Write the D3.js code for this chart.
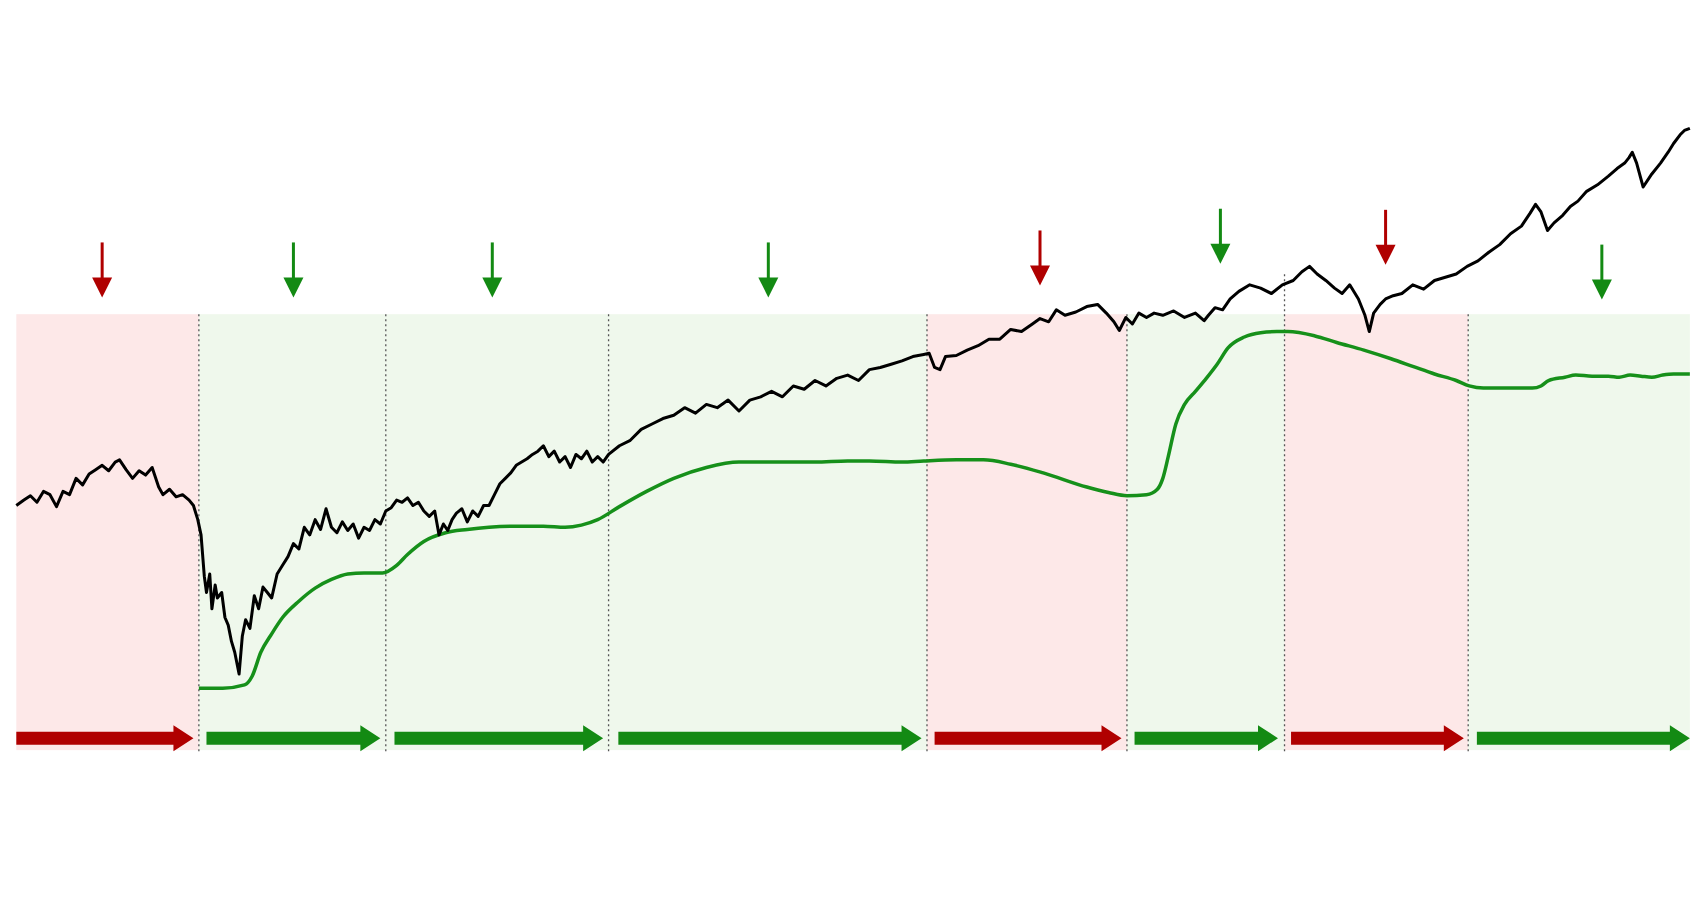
<!DOCTYPE html><html><head><meta charset="utf-8"><script src="https://cdn.jsdelivr.net/npm/d3@7"></script>
<style>body{margin:0;background:#fff}</style></head><body><svg id="c" width="1704" height="923"></svg>
<script>
const bandEdges=[15,183,355,560,853,1037,1182,1351,1555];
const bandTypes=["bear","bull","bull","bull","bear","bull","bear","bull"];
const arrowSpans=[[15,178],[190,350],[363,555],[569,848],[860,1032],[1044,1176],[1188,1347],[1359,1555]];
const topArrowX=[94,270,453,707,957,1123,1275,1474];
const topArrowY=[223,223,223,223,212,192,193,225];
const priceX=[15,22,28,34,40,46,52,58,64,70,76,82,88,94,100,106,110,116,122,128,134,140,146,150,156,162,168,174,178,182,185,188,190,193,195,198,200,204,207,210,213,216,220,223,226,230,234,238,242,246,250,255,260,265,270,275,280,285,290,295,300,305,310,315,320,325,330,335,340,345,350,355,360,365,370,375,380,385,390,395,400,404,408,412,416,420,425,430,435,440,445,450,455,460,465,470,475,480,485,490,495,500,505,510,515,520,525,530,535,540,545,550,555,560,570,580,590,600,610,620,630,640,650,660,670,680,690,700,710,720,730,740,750,760,770,780,790,800,810,820,830,840,850,855,860,865,870,880,890,900,910,920,930,940,950,957,965,972,980,990,1000,1010,1018,1025,1030,1036,1042,1048,1055,1062,1070,1080,1090,1100,1108,1112,1118,1125,1132,1140,1150,1160,1170,1180,1190,1198,1205,1212,1220,1228,1235,1242,1250,1256,1260,1264,1270,1275,1282,1290,1300,1310,1320,1330,1340,1350,1360,1370,1380,1390,1400,1408,1413,1418,1424,1430,1438,1445,1452,1460,1470,1480,1488,1495,1499,1502,1506,1512,1520,1528,1535,1540,1546,1550,1555];
const priceY=[465,460,456,462,452,455,466,452,455,440,446,436,432,428,433,425,423,432,440,433,437,430,448,455,450,457,455,460,465,478,492,530,545,528,560,538,550,545,568,575,590,600,620,585,570,578,548,560,540,545,550,528,520,512,500,505,485,492,478,487,468,485,490,480,488,482,495,485,488,478,482,470,467,460,462,458,465,462,470,475,470,492,482,488,478,472,468,480,470,475,465,465,455,445,440,435,428,425,422,418,415,410,420,415,425,420,430,418,422,415,425,420,425,418,410,405,395,390,385,382,375,380,372,375,368,378,368,365,360,365,355,358,350,355,348,345,350,340,338,335,332,328,326,325,338,340,328,327,322,318,312,312,303,305,298,293,296,285,290,287,282,280,288,296,304,292,298,288,292,288,290,286,292,288,295,290,283,285,275,268,262,265,270,262,258,250,245,252,258,265,270,262,275,290,305,288,280,275,272,270,262,266,258,255,252,245,240,232,225,215,208,196,188,195,212,205,198,190,185,176,170,162,155,150,145,140,150,172,160,150,140,132,124,120,118,122,115];
const trendX=[183,205,225,232,240,250,260,275,290,305,320,335,352,365,375,390,410,430,450,475,500,520,535,550,570,595,620,650,680,715,750,780,800,830,850,880,905,930,960,1000,1020,1037,1055,1065,1070,1075,1082,1090,1100,1110,1120,1130,1145,1160,1175,1185,1210,1230,1255,1280,1300,1320,1340,1352,1365,1380,1395,1410,1418,1425,1440,1450,1465,1480,1490,1500,1510,1520,1530,1540,1555];
const trendY=[633,633,630,622,600,583,568,553,541,533,528,527,527,520,510,498,490,487,485,484,484,485,483,478,466,452,440,430,425,425,425,424,424,425,424,423,423,427,435,448,453,456,455,450,440,420,390,372,360,348,335,320,310,306,305,305,309,315,322,330,337,344,350,355,357,357,357,357,355,350,347,345,346,346,347,345,346,347,345,344,344];
const bandTop=289, bandBottom=690, arrowRowY=679;

const svg=d3.select("#c");
const x=d3.scaleLinear().domain([0,1568]).range([0,1704]);
const y=d3.scaleLinear().domain([0,849]).range([0,923]);
const col={bear:{fill:"#fde8e8",stroke:"#b00000"},bull:{fill:"#eff8ec",stroke:"#138a13"}};
bandTypes.forEach((t,i)=>{
  svg.append("rect").attr("x",x(bandEdges[i])).attr("y",y(bandTop))
   .attr("width",x(bandEdges[i+1])-x(bandEdges[i])).attr("height",y(bandBottom)-y(bandTop))
   .attr("fill",col[t].fill);
});
bandEdges.slice(1,-1).forEach(e=>{
  svg.append("line").attr("x1",x(e)).attr("x2",x(e)).attr("y1",y(bandTop)+(e>1100&&e<1200?-40:0)).attr("y2",y(bandBottom)+2)
   .attr("stroke","#555").attr("stroke-width",1.3).attr("stroke-dasharray","2,3");
});
svg.append("path").datum(trendX.map((v,i)=>[v,trendY[i]]))
 .attr("d",d3.line().x(d=>x(d[0])).y(d=>y(d[1])).curve(d3.curveMonotoneX))
 .attr("fill","none").attr("stroke","#16901a").attr("stroke-width",3.5);
svg.append("path").datum(priceX.map((v,i)=>[v,priceY[i]]))
 .attr("d",d3.line().x(d=>x(d[0])).y(d=>y(d[1])))
 .attr("fill","none").attr("stroke","#000").attr("stroke-width",3).attr("stroke-linejoin","round");
arrowSpans.forEach((s,i)=>{
  const c=col[bandTypes[i]].stroke, x0=x(s[0]), x1=x(s[1]), yc=y(arrowRowY), hl=20, hw=13, th=6.5;
  svg.append("path").attr("fill",c)
   .attr("d",`M${x0},${yc-th}L${x1-hl},${yc-th}L${x1-hl},${yc-hw}L${x1},${yc}L${x1-hl},${yc+hw}L${x1-hl},${yc+th}L${x0},${yc+th}Z`);
});
topArrowX.forEach((ax,i)=>{
  const c=col[bandTypes[i]].stroke, xc=x(ax), y0=y(topArrowY[i]), y1=y0+55;
  svg.append("line").attr("x1",xc).attr("x2",xc).attr("y1",y0).attr("y2",y1-18).attr("stroke",c).attr("stroke-width",3);
  svg.append("path").attr("fill",c).attr("d",`M${xc-10},${y1-20}L${xc+10},${y1-20}L${xc},${y1}Z`);
});
</script></body></html>
